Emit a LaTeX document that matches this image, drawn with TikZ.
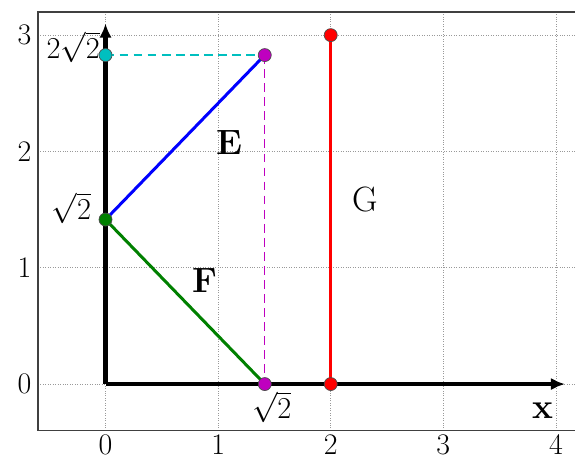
\documentclass[tikz,border=0pt]{standalone}
\usepackage{amsmath}
\definecolor{mcyan}{RGB}{0,191,191}
\definecolor{mmag}{RGB}{191,0,191}
\definecolor{mgreen}{RGB}{0,128,0}
\definecolor{mblue}{RGB}{0,0,255}
\definecolor{mred}{RGB}{255,0,0}
\usetikzlibrary{arrows.meta,positioning}

\begin{document}
\begin{tikzpicture}[x=2.252cm, y=2.326cm,
    dot/.style={circle, draw=black!70, line width=0.4pt, inner sep=0pt, minimum size=7.4pt},
    ticklab/.style={font=\fontsize{17}{20}\selectfont, inner sep=1pt},
    rootlab/.style={font=\fontsize{16}{19}\selectfont, inner sep=1pt},
    biglab/.style={font=\fontsize{20}{24}\selectfont\bfseries},
    axisline/.style={line width=2.7pt, -{Latex[length=8pt, width=7pt]}},
    segline/.style={line width=1.7pt}]
  \useasboundingbox (-0.937,-0.628) rectangle (4.169,3.302);

  %% grid and frame
  \foreach \gx in {0,...,4}
    \draw[densely dotted, gray!80] (\gx,-0.4) -- (\gx,3.2);
  \foreach \gy in {0,...,3}
    \draw[densely dotted, gray!80] (-0.6,\gy) -- (4.3,\gy);
  \draw[black!75, line width=0.8pt] (4.3,3.2) -- (-0.6,3.2) -- (-0.6,-0.4) -- (4.3,-0.4);

  %% tick labels
  \foreach \gx in {0,...,4}
    \node[ticklab] (xt\gx) at (\gx,-0.52) {\gx};
  \foreach \gy in {0,...,3}
    \node[ticklab] (yt\gy) at (-0.72,\gy) {\gy};

  %% points
  \coordinate (O) at (0,0);
  \coordinate (T) at (0,2.8284);
  \coordinate (P) at (1.4142,2.8284);
  \coordinate (S) at (0,1.4142);
  \coordinate (Q) at (1.4142,0);
  \coordinate (R0) at (2,0);
  \coordinate (R3) at (2,3);
  \coordinate (xend) at (4.08,0);
  \coordinate (yend) at (0,3.1);

  %% axes
  \draw[axisline] (O) -- (xend);
  \draw[axisline] (O) -- (yend);

  %% helper lines
  \draw[mcyan, line width=0.8pt, dash pattern=on 5pt off 3pt] (T) -- (P);
  \draw[mmag, line width=0.8pt, dash pattern=on 5pt off 3pt] (P) -- (Q);

  %% segments
  \draw[segline, mblue] (S) -- (P);
  \draw[segline, mgreen] (S) -- (Q);
  \draw[segline, mred] (R0) -- (R3);

  %% dots
  \node[dot, fill=mcyan] (Tdot) at (T) {};
  \node[dot, fill=mmag] (Pdot) at (P) {};
  \node[dot, fill=mgreen] (Sdot) at (S) {};
  \node[dot, fill=mmag] (Qdot) at (Q) {};
  \node[dot, fill=mred] (R0dot) at (R0) {};
  \node[dot, fill=mred] (R3dot) at (R3) {};

  %% labels
  \node[rootlab, anchor=east] (Tlab) at ([xshift=-2pt, yshift=4.5pt]T) {$2\sqrt{2}$};
  \node[rootlab, anchor=east] (Slab) at ([xshift=-7pt, yshift=6.5pt]S) {$\sqrt{2}$};
  \node[rootlab, anchor=north] (Qlab) at ([xshift=4pt, yshift=-3pt]Q) {$\sqrt{2}$};
  \node[biglab] (E) at (1.1,2.08) {E};
  \node[biglab] (F) at (0.88,0.89) {F};
  \node[font=\fontsize{20}{24}\selectfont] (G) at (2.31,1.59) {G};
  \node[biglab] (xlab) at (3.88,-0.23) {x};
\end{tikzpicture}
\end{document}
